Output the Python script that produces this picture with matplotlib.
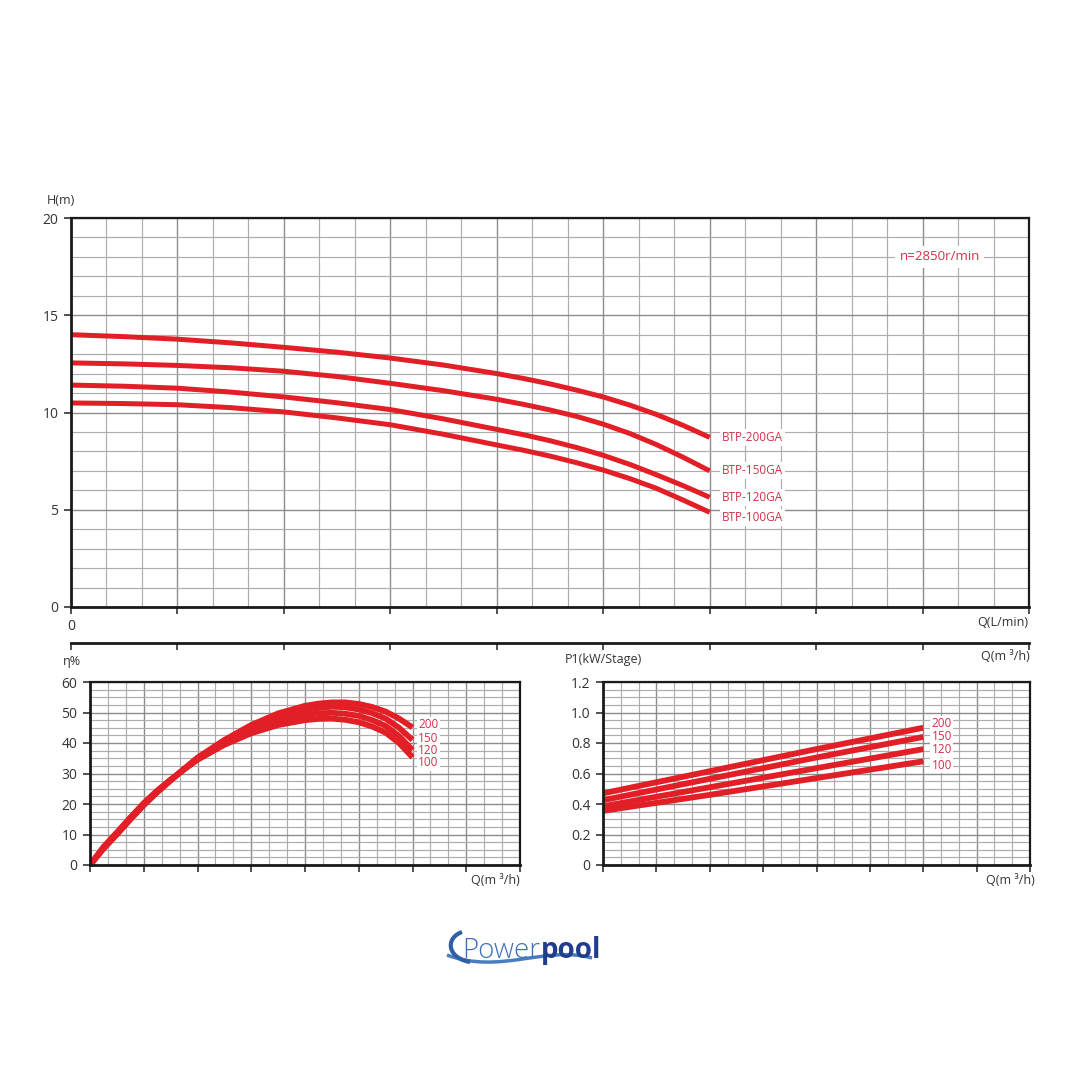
import numpy as np
import matplotlib.pyplot as plt
from matplotlib.ticker import MultipleLocator
from matplotlib.path import Path
from matplotlib.patches import PathPatch

plt.rcParams['font.family'] = ['Open Sans', 'DejaVu Sans']

# head curves (Q in grid divisions, H in m)
q_head = [0, 0.5, 1, 1.5, 2, 2.5, 3, 3.5, 4, 4.25, 4.5, 4.75, 5, 5.25, 5.5, 5.75, 6]
models = ['BTP-200GA', 'BTP-150GA', 'BTP-120GA', 'BTP-100GA']
head_200 = [14.0, 13.9, 13.77, 13.58, 13.35, 13.1, 12.8, 12.44, 12.0,
            11.75, 11.47, 11.15, 10.8, 10.38, 9.9, 9.34, 8.72]
head_150 = [12.55, 12.5, 12.42, 12.3, 12.12, 11.85, 11.5, 11.12, 10.68,
            10.42, 10.13, 9.8, 9.4, 8.92, 8.35, 7.7, 7.0]
head_120 = [11.41, 11.35, 11.25, 11.05, 10.8, 10.5, 10.15, 9.67, 9.13,
            8.86, 8.55, 8.2, 7.8, 7.33, 6.8, 6.24, 5.64]
head_100 = [10.49, 10.46, 10.4, 10.25, 10.03, 9.72, 9.37, 8.88, 8.33,
            8.06, 7.76, 7.42, 7.04, 6.6, 6.1, 5.5, 4.87]
heads = [head_200, head_150, head_120, head_100]

# efficiency curves
q_eff = [0, 0.25, 0.5, 0.75, 1, 1.25, 1.5, 1.75, 2, 2.5, 3, 3.5, 4,
         4.25, 4.5, 4.75, 5, 5.25, 5.5, 5.75, 6]
sizes = ['200', '150', '120', '100']
eff_200 = [0, 5.3, 10.0, 14.9, 19.6, 23.8, 27.7, 31.5, 35.2, 41.0, 45.9, 49.7, 52.2,
           52.9, 53.3, 53.3, 52.8, 51.8, 50.3, 48.0, 45.1]
eff_150 = [0, 5.5, 10.2, 15.1, 19.8, 24.0, 27.8, 31.5, 35.0, 40.6, 45.0, 48.6, 50.8,
           51.5, 51.9, 51.7, 51.0, 49.8, 48.0, 45.0, 41.0]
eff_120 = [0, 5.7, 10.4, 15.3, 20.0, 24.2, 27.9, 31.4, 34.8, 40.0, 44.3, 47.3, 49.2,
           49.7, 49.9, 49.6, 48.9, 47.5, 45.6, 42.3, 37.7]
eff_100 = [0, 5.9, 10.7, 15.6, 20.3, 24.4, 28.0, 31.3, 34.5, 39.4, 43.2, 45.9, 47.5,
           47.9, 48.0, 47.6, 46.8, 45.4, 43.4, 40.0, 35.3]
effs = [eff_200, eff_150, eff_120, eff_100]

# power curves
q_pow = [0, 2, 4, 6]
pow_200 = [0.47, 0.615, 0.76, 0.90]
pow_150 = [0.425, 0.565, 0.705, 0.84]
pow_120 = [0.385, 0.51, 0.635, 0.76]
pow_100 = [0.355, 0.46, 0.57, 0.68]
powers = [pow_200, pow_150, pow_120, pow_100]

red = '#e21f26'
label_red = '#d23048'
text_col = '#333333'
W = 1080.0


def fx(px):
    return px / W


def fy(py):
    return 1 - py / W


def style_axes(ax, xmax, ymax, ymajor, yminor):
    ax.set_xlim(0, xmax)
    ax.set_ylim(0, ymax)
    ax.xaxis.set_major_locator(MultipleLocator(1))
    ax.xaxis.set_minor_locator(MultipleLocator(1 / 3))
    ax.yaxis.set_major_locator(MultipleLocator(ymajor))
    ax.yaxis.set_minor_locator(MultipleLocator(yminor))
    ax.grid(which='minor', color='#adadad', lw=0.85)
    ax.grid(which='major', color='#8c8c8c', lw=1.0)
    ax.set_axisbelow(True)
    ax.tick_params(which='minor', length=0)
    ax.tick_params(which='major', length=5, width=1.1, color='#222222',
                   labelsize=10, labelcolor=text_col, pad=4)
    for side in ['left', 'bottom']:
        ax.spines[side].set_linewidth(2.0)
        ax.spines[side].set_color('#1a1a1a')
    for side in ['top', 'right']:
        ax.spines[side].set_linewidth(1.6)
        ax.spines[side].set_color('#1a1a1a')


fig = plt.figure(figsize=(10.8, 10.8), dpi=100)

# ---- head chart
ax = fig.add_axes([fx(71), fy(607), fx(958), 389 / W])
style_axes(ax, 9, 20, 5, 1)
ax.set_xticks(range(10))
ax.set_xticklabels(['0'] + [''] * 9)
for h in heads:
    ax.plot(q_head, h, color=red, lw=3.6, solid_capstyle='butt', solid_joinstyle='round')
head_offsets = [0, 0, 0, -4]
for name, h, dy in zip(models, heads, head_offsets):
    ax.annotate(name, (q_head[-1], h[-1]), xytext=(9, dy), textcoords='offset points',
                ha='left', va='center', fontsize=8.5, color=label_red,
                bbox=dict(facecolor='white', edgecolor='none', pad=1.5))
ax.text(0.907, 0.9, 'n=2850r/min', transform=ax.transAxes, ha='center', va='center',
        fontsize=9.5, color=label_red,
        bbox=dict(facecolor='white', edgecolor='none', pad=3))

sec = ax.secondary_xaxis(-0.0925)
sec.set_xticks(range(10))
sec.set_xticklabels([])
sec.spines['bottom'].set_linewidth(2.0)
sec.spines['bottom'].set_color('#1a1a1a')
sec.tick_params(length=5, width=1.1, color='#222222')

fig.text(fx(47), fy(201), 'H(m)', fontsize=9, color=text_col, va='center')
fig.text(fx(1028), fy(623), 'Q(L/min)', fontsize=9, color=text_col, va='center', ha='right')
fig.text(fx(1030), fy(657), 'Q(m ³/h)', fontsize=9, color=text_col, va='center', ha='right')

# ---- efficiency chart
ax2 = fig.add_axes([fx(90), fy(865), fx(430), 183 / W])
style_axes(ax2, 8, 60, 10, 2.5)
ax2.set_xticklabels([])
for e in effs:
    ax2.plot(q_eff, e, color=red, lw=4.2, solid_capstyle='butt', solid_joinstyle='round')
eff_offsets = [2, 1, 0, -4]
for s, e, dy in zip(sizes, effs, eff_offsets):
    ax2.annotate(s, (q_eff[-1], e[-1]), xytext=(4, dy), textcoords='offset points',
                 ha='left', va='center', fontsize=8.5, color=label_red,
                 bbox=dict(facecolor='white', edgecolor='none', pad=1))
fig.text(fx(63), fy(662), 'η%', fontsize=9, color=text_col, va='center')
fig.text(fx(520), fy(881), 'Q(m ³/h)', fontsize=9, color=text_col, va='center', ha='right')

# ---- power chart
ax3 = fig.add_axes([fx(603), fy(865), fx(427), 183 / W])
style_axes(ax3, 8, 1.2, 0.2, 0.05)
ax3.set_xticklabels([])
ax3.set_yticks(np.arange(0, 1.21, 0.2))
ax3.set_yticklabels(['0', '0.2', '0.4', '0.6', '0.8', '1.0', '1.2'])
for p in powers:
    ax3.plot(q_pow, p, color=red, lw=4.2, solid_capstyle='butt')
pow_offsets = [3, 0, 0, -3]
for s, p, dy in zip(sizes, powers, pow_offsets):
    ax3.annotate(s, (q_pow[-1], p[-1]), xytext=(6, dy), textcoords='offset points',
                 ha='left', va='center', fontsize=8.5, color=label_red,
                 bbox=dict(facecolor='white', edgecolor='none', pad=1))
fig.text(fx(565), fy(660), 'P1(kW/Stage)', fontsize=9, color=text_col, va='center')
fig.text(fx(1035), fy(881), 'Q(m ³/h)', fontsize=9, color=text_col, va='center', ha='right')

# ---- logo
fig.text(fx(462), fy(958), 'Power', fontsize=20, color='#3f72b8', va='baseline',
         family='Open Sans', fontweight='light')
fig.text(fx(541), fy(958), 'pool', fontsize=20, color='#1f3d8c', va='baseline',
         family='Open Sans', fontweight='bold')
wave = Path([(fx(447), fy(955)), (fx(500), fy(975)), (fx(545), fy(945)), (fx(592), fy(958))],
            [Path.MOVETO, Path.CURVE4, Path.CURVE4, Path.CURVE4])
fig.patches.append(PathPatch(wave, transform=fig.transFigure, fill=False,
                             edgecolor='#4a7cc0', lw=2.5))
curl = Path([(fx(462), fy(932)), (fx(445), fy(938)), (fx(447), fy(958)), (fx(470), fy(962))],
            [Path.MOVETO, Path.CURVE4, Path.CURVE4, Path.CURVE4])
fig.patches.append(PathPatch(curl, transform=fig.transFigure, fill=False,
                             edgecolor='#2f5fa8', lw=3))

fig.savefig('out.png', dpi=100)
